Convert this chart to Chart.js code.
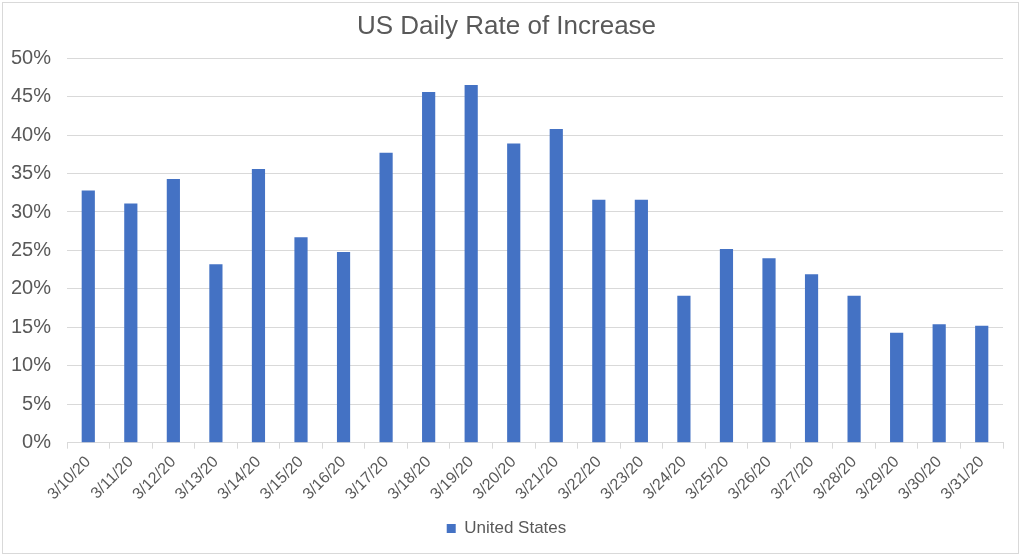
<!DOCTYPE html>
<html>
<head>
<meta charset="utf-8">
<script src="https://cdn.jsdelivr.net/npm/chart.js@4"></script>
<style>
  html, body { margin: 0; padding: 0; background: #fff; }
  #frame {
    position: absolute; left: 2px; top: 2px;
    width: 1015px; height: 550px;
    border: 1px solid #d9d9d9; background: #fff;
  }
</style>
</head>
<body>
<div id="frame"><canvas id="rateChart"></canvas></div>
<script>
// US daily rate of increase, March 2020
const dates = ['3/10/20', '3/11/20', '3/12/20', '3/13/20', '3/14/20', '3/15/20', '3/16/20',
    '3/17/20', '3/18/20', '3/19/20', '3/20/20', '3/21/20', '3/22/20', '3/23/20', '3/24/20',
    '3/25/20', '3/26/20', '3/27/20', '3/28/20', '3/29/20', '3/30/20', '3/31/20'];
const usRates = [32.8, 31.1, 34.3, 23.2, 35.6, 26.7, 24.8, 37.7, 45.6, 46.5, 38.9,
    40.8, 31.6, 31.6, 19.1, 25.2, 24.0, 21.9, 19.1, 14.3, 15.4, 15.2];
const yTicks = [0, 5, 10, 15, 20, 25, 30, 35, 40, 45, 50];

document.addEventListener('DOMContentLoaded', () => {
    const ctx = document.getElementById('rateChart').getContext('2d');
    const textGrey = '#595959';
    const gridGrey = '#d9d9d9';

    new Chart(ctx, {
        type: 'bar',
        data: {
            labels: dates,
            datasets: [{
                label: 'United States',
                data: usRates,
                backgroundColor: '#4472c4',
                borderWidth: 0,
                categoryPercentage: 1,
                barPercentage: 0.31
            }]
        },
        options: {
            responsive: true,
            maintainAspectRatio: false,
            animation: false,
            layout: { padding: { left: 7, right: 15, top: 6, bottom: 6 } },
            scales: {
                x: {
                    offset: true,
                    grid: {
                        offset: true,
                        drawOnChartArea: false,
                        color: gridGrey,
                        tickLength: 6
                    },
                    border: { color: gridGrey },
                    ticks: {
                        color: textGrey,
                        font: { family: 'Liberation Sans', size: 16 },
                        maxRotation: 45,
                        minRotation: 45,
                        padding: 4
                    },
                    afterFit: axis => { axis.height += 6; }
                },
                y: {
                    min: 0,
                    max: 50,
                    afterBuildTicks: axis => {
                        axis.ticks = yTicks.map(v => ({ value: v }));
                    },
                    // keep the label column tight: labels + gap only
                    afterFit: axis => { axis.width = 57; },
                    grid: { color: gridGrey, drawTicks: false },
                    border: { display: false },
                    ticks: {
                        color: textGrey,
                        font: { family: 'Liberation Sans', size: 20 },
                        padding: 16,
                        callback: value => value + '%'
                    }
                }
            },
            plugins: {
                title: {
                    display: true,
                    text: 'US Daily Rate of Increase',
                    color: textGrey,
                    font: { family: 'Liberation Sans', size: 26, weight: 'normal' },
                    padding: { top: 2, bottom: 16 }
                },
                legend: {
                    position: 'bottom',
                    labels: {
                        color: textGrey,
                        font: { family: 'Liberation Sans', size: 17 },
                        boxWidth: 9,
                        boxHeight: 9,
                        padding: 6
                    }
                },
                tooltip: { enabled: false }
            }
        }
    });
});
</script>
</body>
</html>
